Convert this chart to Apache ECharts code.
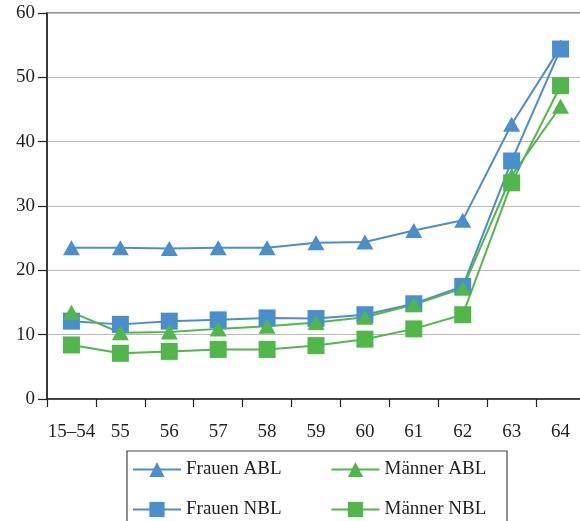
<!DOCTYPE html>
<html>
<head>
<meta charset="utf-8">
<script src="https://cdn.jsdelivr.net/npm/echarts@6/dist/echarts.min.js"></script>
<style>html,body{margin:0;padding:0;background:#fff}#c{width:580px;height:521px}</style>
</head>
<body>
<div id="c"></div>
<script>
const categories = ['15–54','55','56','57','58','59','60','61','62','63','64'];
const frauenABL = [23.5, 23.5, 23.4, 23.5, 23.5, 24.3, 24.4, 26.2, 27.8, 42.7, 54.7];
const frauenNBL = [12.1, 11.6, 12.1, 12.3, 12.6, 12.5, 13.1, 14.8, 17.5, 37.0, 54.4];
const maennerABL = [13.5, 10.3, 10.4, 10.9, 11.3, 11.9, 12.7, 14.7, 17.2, 34.7, 45.5];
const maennerNBL = [8.4, 7.1, 7.4, 7.7, 7.7, 8.3, 9.3, 10.9, 13.1, 33.6, 48.7];
const yTicks = {min: 0, max: 60, interval: 10};

const BLUE = '#4a8fcd';
const GREEN = '#50b848';
const FONT = 'Liberation Serif';
const TXT = '#231f20';

function line(name, data, color, symbol, size) {
  return {
    name: name, type: 'line', data: data,
    symbol: symbol, symbolSize: size,
    lineStyle: {color: color, width: 2},
    itemStyle: {color: color},
    emphasis: {disabled: true},
    animation: false
  };
}

const chart = echarts.init(document.getElementById('c'), null, {renderer: 'canvas'});
chart.setOption({
  animation: false,
  textStyle: {fontFamily: FONT},
  grid: {left: 47, top: 13, right: -5, bottom: 122, show: true, borderColor: '#333', borderWidth: 1.2,
         containLabel: false, outerBoundsMode: 'none'},
  xAxis: {
    type: 'category', data: categories, boundaryGap: true,
    axisLine: {lineStyle: {color: '#222', width: 1.5}},
    axisTick: {show: true, interval: 0, length: 8, lineStyle: {color: '#222', width: 1.2}},
    axisLabel: {interval: 0, margin: 24, fontFamily: FONT, fontSize: 19, color: TXT, hideOverlap: false},
    splitLine: {show: false}
  },
  yAxis: {
    type: 'value', min: yTicks.min, max: yTicks.max, interval: yTicks.interval,
    axisLine: {show: true, lineStyle: {color: '#222', width: 1.5}},
    axisTick: {show: true, length: 9, lineStyle: {color: '#222', width: 1.2}},
    axisLabel: {margin: 12, fontFamily: FONT, fontSize: 19, color: TXT},
    splitLine: {show: true, lineStyle: {color: '#bababa', width: 1.2}}
  },
  legend: [
    {data: ['Frauen ABL', 'Männer ABL'], left: 132, top: 460, padding: 0, itemGap: 49,
     itemWidth: 48, itemHeight: 19, textStyle: {fontFamily: FONT, fontSize: 19, color: TXT}},
    {data: ['Frauen NBL', 'Männer NBL'], left: 132, top: 500, padding: 0, itemGap: 49,
     itemWidth: 48, itemHeight: 19, textStyle: {fontFamily: FONT, fontSize: 19, color: TXT}}
  ],
  graphic: [{type: 'rect', shape: {x: 127, y: 451, width: 380, height: 80},
    style: {fill: 'none', stroke: '#444', lineWidth: 1.2}, silent: true}],
  series: [
    line('Frauen ABL', frauenABL, BLUE, 'triangle', [17, 15]),
    line('Frauen NBL', frauenNBL, BLUE, 'rect', 17),
    line('Männer ABL', maennerABL, GREEN, 'triangle', [17, 15]),
    line('Männer NBL', maennerNBL, GREEN, 'rect', 17)
  ]
});
</script>
</body>
</html>
